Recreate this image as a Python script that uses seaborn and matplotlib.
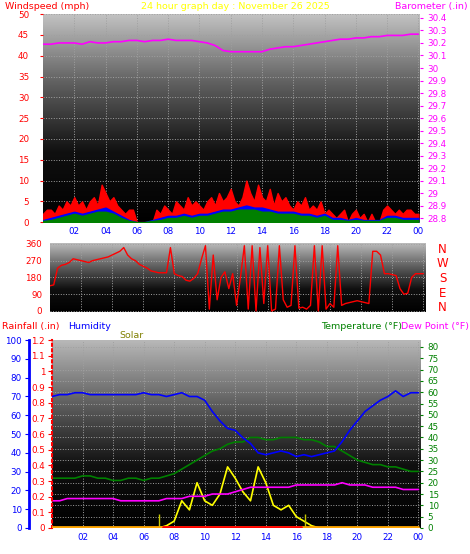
import numpy as np
import pandas as pd
import seaborn as sns
import matplotlib.pyplot as plt

sns.set_style('white')
plt.rcParams['font.family'] = ['DejaVu Sans']

# ---- data (hours of day) ----
q_hours = np.arange(0, 24.01, 0.25)
h_hours = np.arange(0, 24.01, 0.5)

gust = [2, 3, 3, 2, 4, 3, 5, 4, 6, 4, 5, 3, 5, 6, 4, 9, 7, 5, 6, 4, 3, 2, 3, 3,
        0, 0, 0, 0, 0, 3, 2, 4, 3, 2, 5, 4, 3, 6, 4, 5, 4, 3, 5, 6, 4, 7, 5, 6,
        8, 5, 4, 6, 10, 7, 5, 9, 6, 5, 8, 4, 7, 5, 6, 4, 3, 5, 4, 6, 3, 4, 3, 5,
        2, 3, 2, 1, 2, 3, 0, 2, 3, 1, 2, 0, 2, 0, 0, 3, 4, 3, 2, 3, 2, 3, 3, 2, 2]
wind_avg = [0.5, 1, 1.5, 2, 2.5, 2, 2.5, 3, 3.5, 2.5, 1.5, 0.5, 0, 0, 0.5, 1, 1.5, 1.5,
            2, 1.5, 2, 2, 2.5, 3, 3, 3.5, 4, 3.5, 3.5, 3, 2.5, 2.5, 2.5, 2, 2, 1.5,
            2, 1, 1, 0.5, 1, 0.5, 0.5, 0.5, 1.5, 1.5, 1, 1, 1]
wind_low = [0.3, 0.5, 1, 1.5, 2, 1.5, 2, 2.5, 2.5, 2, 1, 0.3, 0, 0, 0.3, 0.5, 1, 1,
            1.5, 1, 1.5, 1.5, 2, 2.5, 2.5, 3, 3, 3, 2.5, 2.5, 2, 2, 2, 1.5, 1.5, 1,
            1.5, 0.5, 0.5, 0.3, 0.5, 0.3, 0.3, 0.3, 1, 1, 0.5, 0.5, 0.5]
baro = [30.19, 30.19, 30.2, 30.2, 30.2, 30.19, 30.21, 30.2, 30.2, 30.21, 30.21, 30.22,
        30.22, 30.21, 30.22, 30.22, 30.23, 30.22, 30.22, 30.22, 30.21, 30.2, 30.18, 30.14,
        30.13, 30.13, 30.13, 30.13, 30.13, 30.15, 30.16, 30.17, 30.17, 30.18, 30.19, 30.2,
        30.21, 30.22, 30.23, 30.23, 30.24, 30.24, 30.25, 30.25, 30.26, 30.26, 30.26, 30.27, 30.27]
wind_dir = [135, 140, 230, 245, 250, 260, 280, 275, 270, 265, 260, 270, 275, 280, 285, 290,
            300, 310, 320, 340, 300, 280, 270, 250, 240, 230, 215, 210, 205, 205, 205, 340,
            200, 190, 185, 165, 160, 175, 200, 280, 350, 10, 300, 60, 180, 210, 120, 200,
            30, 180, 350, 10, 350, 0, 340, 40, 350, 0, 10, 350, 60, 20, 30, 350,
            15, 20, 10, 30, 350, 0, 350, 10, 40, 20, 350, 30, 40, 45, 50, 55,
            50, 45, 40, 320, 320, 300, 200, 200, 195, 190, 120, 90, 95, 180, 200, 200, 200]
humidity = [70, 71, 71, 72, 72, 71, 71, 71, 71, 71, 71, 71, 72, 71, 71, 70, 71, 72, 70, 70,
            68, 62, 57, 53, 52, 48, 45, 40, 39, 40, 41, 40, 38, 39, 38, 39, 40, 41, 46, 52,
            57, 62, 65, 68, 70, 73, 70, 72, 72]
temperature = [22, 22, 22, 22, 23, 23, 22, 22, 21, 21, 22, 22, 21, 22, 22, 23, 24, 26, 28, 30,
               32, 34, 35, 37, 38, 38, 40, 40, 39, 39, 40, 40, 40, 39, 39, 38, 36, 36, 34, 32,
               30, 29, 28, 28, 27, 27, 26, 25, 25]
dewpoint = [12, 12, 13, 13, 13, 13, 13, 13, 13, 12, 12, 12, 12, 12, 12, 13, 13, 13, 14, 14,
            14, 15, 15, 15, 16, 17, 18, 18, 18, 18, 18, 18, 19, 19, 19, 19, 19, 19, 20, 19,
            19, 19, 18, 18, 18, 18, 17, 17, 17]
solar = [0] * 14 + [0, 1, 3, 12, 8, 20, 12, 10, 15, 27, 22, 16, 12, 27, 20, 10, 8, 10, 5,
         3, 1, 0] + [0] * 13
rainfall = [0.0] * 49

ticks = list(range(2, 25, 2))
tick_labels = ['02', '04', '06', '08', '10', '12', '14', '16', '18', '20', '22', '00']


def shade(ax, top='#c4c4c4'):
    grad = np.linspace(1, 0, 256).reshape(-1, 1)
    cmap = sns.blend_palette(['#000000', '#101010', '#606060', top], as_cmap=True)
    ax.imshow(grad, extent=[0, 1, 0, 1], transform=ax.transAxes, aspect='auto',
              cmap=cmap, zorder=0)
    ax.grid(True, color='#a0a0a0', linestyle=':', linewidth=0.7)
    for s in ax.spines.values():
        s.set_visible(False)


def no_spines(ax):
    for s in ax.spines.values():
        s.set_visible(False)


fig = plt.figure(figsize=(4.7, 5.54), dpi=100)
fs = 6.3
hs = 6.8

# ---- top: wind + barometer ----
ax1 = fig.add_axes([0.0915, 0.599, 0.802, 0.3755])
shade(ax1)
ax1.fill_between(q_hours, gust, color='#ff0000', zorder=2)
ax1.fill_between(h_hours, wind_avg, color='#0000ff', zorder=3)
ax1.fill_between(h_hours, wind_low, color='#008000', zorder=4)
ax1.set_xlim(0, 24.1)
ax1.set_ylim(0, 50)
ax1.set_yticks(range(0, 51, 5))
ax1.set_xticks(ticks)
ax1.set_xticklabels(tick_labels)
ax1.tick_params(axis='y', colors='red', labelsize=fs, length=2, pad=8)
ax1.tick_params(axis='x', colors='blue', labelsize=fs, length=0)
ax1b = ax1.twinx()
sns.lineplot(x=h_hours, y=baro, ax=ax1b, color='#ff00ff', linewidth=1.2)
ax1b.set_ylim(28.77, 30.43)
ax1b.set_yticks(np.round(np.arange(28.8, 30.41, 0.1), 1))
ax1b.yaxis.set_major_formatter(plt.FuncFormatter(lambda v, p: f'{v:g}'))
ax1b.tick_params(axis='y', colors='#ff00ff', labelsize=fs, length=2)
no_spines(ax1b)
fig.text(0.01, 0.997, 'Windspeed (mph)', color='red', fontsize=hs, va='top')
fig.text(0.5, 0.997, '24 hour graph day : November 26 2025', color='yellow', fontsize=hs,
         va='top', ha='center')
fig.text(0.995, 0.997, 'Barometer (.in)', color='#ff00ff', fontsize=hs, va='top', ha='right')

# ---- middle: wind direction ----
ax2 = fig.add_axes([0.106, 0.437, 0.798, 0.1245])
shade(ax2, top='#bbbbbb')
sns.lineplot(x=q_hours, y=wind_dir, ax=ax2, color='#ff0000', linewidth=1.0, zorder=3)
ax2.set_xlim(0, 24.1)
ax2.set_ylim(-5, 365)
ax2.set_yticks(range(0, 361, 90))
ax2.set_xticks(ticks)
ax2.set_xticklabels([])
ax2.tick_params(axis='y', colors='red', labelsize=fs, length=2)
ax2.tick_params(axis='x', length=0)
for i, c in enumerate(['N', 'W', 'S', 'E', 'N']):
    fig.text(0.942, 0.562 - i * 0.0265, c, color='red', fontsize=8.5, ha='center', va='top')

# ---- bottom: temperature, humidity, rain, solar ----
ax3 = fig.add_axes([0.1106, 0.047, 0.783, 0.339])
shade(ax3, top='#b8b8b8')
ax3.set_xlim(0, 24.1)
ax3.set_ylim(0, 83)
ax3.set_xticks(ticks)
ax3.set_xticklabels(tick_labels)
ax3.tick_params(axis='x', colors='blue', labelsize=fs, length=0)
ax3.set_yticks(range(0, 81, 5))
sns.lineplot(x=h_hours, y=solar, ax=ax3, color='yellow', linewidth=1.2, zorder=3)
sns.lineplot(x=h_hours, y=temperature, ax=ax3, color='green', linewidth=1.2, zorder=4)
sns.lineplot(x=h_hours, y=dewpoint, ax=ax3, color='#ff00ff', linewidth=1.2, zorder=4)
ax3.vlines([7, 16.6], 0, 6, color='#c8c800', linewidth=1, zorder=3)

# rainfall scale on the left edge of the plot
axr = ax3.twinx()
axr.yaxis.tick_left()
axr.set_ylim(0, 1.2)
axr.set_yticks(np.round(np.arange(0, 1.21, 0.1), 1))
axr.yaxis.set_major_formatter(plt.FuncFormatter(lambda v, p: f'{v:g}'))
axr.tick_params(axis='y', colors='red', labelsize=fs, length=3, pad=2)
axr.plot(h_hours, [r + 0.004 for r in rainfall], color='orange', linewidth=2, zorder=5)
axr.plot([7.3, 16.3], [0.004, 0.004], color='red', linewidth=2, zorder=6)
no_spines(axr)
axr.spines['left'].set_visible(True)
axr.spines['left'].set_color('red')
axr.spines['left'].set_linestyle(':')
axr.spines['left'].set_linewidth(1.5)

# humidity scale further out
axh = ax3.twinx()
axh.yaxis.tick_left()
sns.lineplot(x=h_hours, y=humidity, ax=axh, color='#0000ff', linewidth=1.2, zorder=5)
axh.set_ylim(0, 100)
axh.set_yticks(range(0, 101, 10))
axh.tick_params(axis='y', colors='blue', labelsize=fs, length=3, pad=2, direction='out')
no_spines(axh)
axh.spines['left'].set_visible(True)
axh.spines['left'].set_position(('axes', -0.063))
axh.spines['left'].set_color('blue')
axh.spines['left'].set_linewidth(2)

# temperature scale on the right (set after twinx, which moves it)
ax3.yaxis.tick_right()
ax3.yaxis.set_label_position('right')
ax3.tick_params(axis='y', colors='green', labelsize=fs, length=2)

fig.text(0.005, 0.418, 'Rainfall (.in)', color='red', fontsize=hs, va='top')
fig.text(0.145, 0.418, 'Humidity', color='blue', fontsize=hs, va='top')
fig.text(0.255, 0.402, 'Solar', color='#808000', fontsize=hs, va='top')
fig.text(0.998, 0.418, 'Dew Point (°F)', color='#ff00ff', fontsize=hs, va='top', ha='right')
fig.text(0.855, 0.418, 'Temperature (°F)', color='green', fontsize=hs, va='top', ha='right')

fig.savefig('out.png', dpi=100)
